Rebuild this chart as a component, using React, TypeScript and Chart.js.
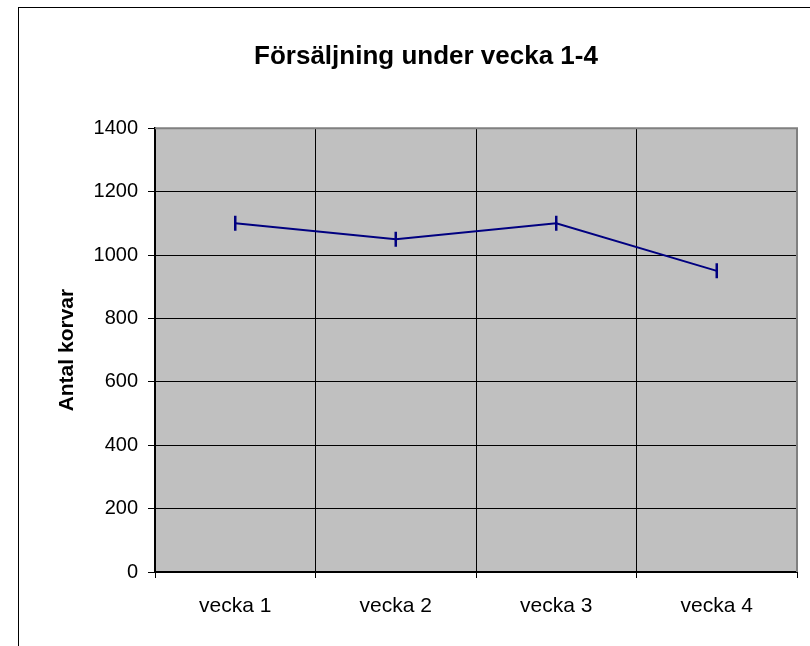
import React, { useEffect, useRef } from "react";
import { Chart, registerables } from "chart.js";

Chart.register(...registerables);

const categories = ["vecka 1", "vecka 2", "vecka 3", "vecka 4"];
const salesValues = [1100, 1050, 1100, 950];
const titleText = "Försäljning under vecka 1-4";
const yAxisTitle = "Antal korvar";
const yMin = 0;
const yMax = 1400;
const yStep = 200;

const FONT = "'Liberation Sans', Arial, sans-serif";

const plotBackground = {
  id: "plotBackground",
  beforeDraw(chart: any) {
    const { ctx, chartArea } = chart;
    if (!chartArea) return;
    ctx.save();
    ctx.fillStyle = "#C0C0C0";
    ctx.fillRect(chartArea.left, chartArea.top, chartArea.right - chartArea.left, chartArea.bottom - chartArea.top);
    ctx.restore();
  },
};

const plotBorder = {
  id: "plotBorder",
  beforeDatasetsDraw(chart: any) {
    const { ctx, chartArea } = chart;
    ctx.save();
    ctx.strokeStyle = "#808080";
    ctx.lineWidth = 2;
    ctx.beginPath();
    ctx.moveTo(chartArea.left, chartArea.top);
    ctx.lineTo(chartArea.right, chartArea.top);
    ctx.lineTo(chartArea.right, chartArea.bottom);
    ctx.stroke();
    ctx.restore();
  },
};

export default function App() {
  const canvasRef = useRef<HTMLCanvasElement | null>(null);

  useEffect(() => {
    if (!canvasRef.current) return;
    const chart = new Chart(canvasRef.current, {
      type: "line",
      data: {
        labels: categories,
        datasets: [
          {
            data: salesValues,
            borderColor: "#000080",
            backgroundColor: "#000080",
            borderWidth: 2,
            pointStyle: "line",
            pointRotation: 90,
            pointRadius: 7.5,
            pointBorderWidth: 2.5,
            pointBorderColor: "#000080",
            tension: 0,
          },
        ],
      },
      plugins: [plotBackground, plotBorder],
      options: {
        responsive: false,
        animation: false,
        layout: { padding: { left: 55, right: 13, top: 0, bottom: 0 } },
        plugins: {
          legend: { display: false },
          tooltip: { enabled: false },
          title: {
            display: true,
            text: titleText,
            color: "#000",
            font: { family: FONT, size: 26, weight: "bold" },
            padding: { top: 41, bottom: 56 },
          },
        },
        scales: {
          x: {
            type: "category",
            offset: true,
            afterFit(scale: any) {
              scale.height = 74;
            },
            grid: {
              offset: true,
              color: "#000",
              lineWidth: 1,
              drawTicks: true,
              tickLength: 6,
              tickColor: "#000",
            },
            border: { color: "#000", width: 2 },
            ticks: {
              color: "#000",
              padding: 16,
              font: { family: FONT, size: 21 },
            },
          },
          y: {
            min: yMin,
            max: yMax,
            afterFit(scale: any) {
              scale.width = 100;
            },
            ticks: {
              stepSize: yStep,
              color: "#000",
              padding: 10,
              font: { family: FONT, size: 20 },
              callback: (value: any) => String(value),
            },
            grid: {
              color: "#000",
              lineWidth: 1,
              drawTicks: true,
              tickLength: 7,
              tickColor: "#000",
            },
            border: { color: "#000", width: 2 },
            title: {
              display: true,
              text: yAxisTitle,
              color: "#000",
              padding: { top: 0, bottom: 0 },
              font: { family: FONT, size: 21, weight: "bold" },
            },
          },
        },
      },
    });
    return () => chart.destroy();
  }, []);

  return (
    <div style={{ position: "fixed", left: 0, top: 0, width: 810, height: 646, background: "#fff", overflow: "hidden" }}>
      <div
        style={{
          position: "absolute",
          left: 18,
          top: 7,
          width: 900,
          height: 800,
          border: "1px solid #000",
          boxSizing: "border-box",
        }}
      />
      <canvas ref={canvasRef} width={810} height={646} style={{ position: "absolute", left: 0, top: 0 }} />
    </div>
  );
}
